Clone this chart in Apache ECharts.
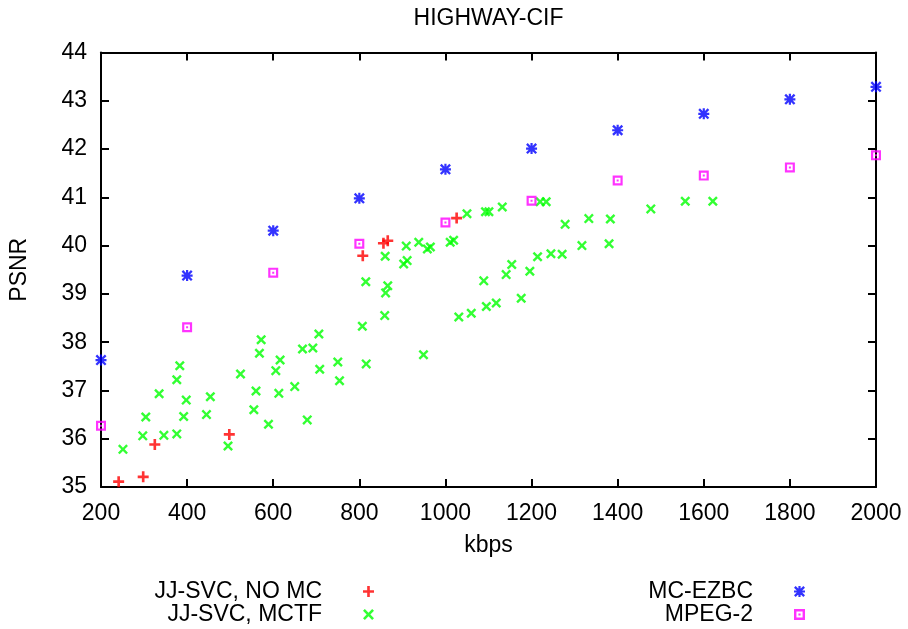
<!DOCTYPE html>
<html>
<head>
<meta charset="utf-8">
<script src="https://cdn.jsdelivr.net/npm/echarts@6/dist/echarts.min.js"></script>
<style>html,body{margin:0;padding:0;background:#fff}#c{width:908px;height:629px}</style>
</head>
<body>
<div id="c"></div>
<script>
const chartTitle = 'HIGHWAY-CIF';
const xTicks = [200, 400, 600, 800, 1000, 1200, 1400, 1600, 1800, 2000];
const yTicks = [35, 36, 37, 38, 39, 40, 41, 42, 43, 44];
const seriesNames = ['JJ-SVC, NO MC', 'JJ-SVC, MCTF', 'MC-EZBC', 'MPEG-2'];

const noMcKbps = [241, 298, 325, 498, 808, 856, 866, 1026];
const noMcPsnr = [35.11, 35.21, 35.88, 36.09, 39.79, 40.05, 40.10, 40.57];

const mctfKbps = [251, 297, 304, 335, 346, 376, 376, 383, 392, 398, 445, 454, 495, 524, 555, 560, 568, 572, 589, 606,
  613, 616, 650, 668, 679, 692, 706, 708, 750, 754, 807, 816, 815, 859, 861, 866, 860, 903, 909, 911,
  938, 949, 958, 965, 1011, 1019, 1031, 1050, 1060, 1089, 1093, 1095, 1101, 1118, 1132, 1141, 1154, 1176, 1196, 1214,
  1220, 1234, 1245, 1271, 1278, 1317, 1333, 1380, 1383, 1477, 1557, 1621];
const mctfPsnr = [35.78, 36.06, 36.45, 36.93, 36.07, 36.10, 37.22, 37.51, 36.46, 36.80, 36.50, 36.87, 35.85, 37.34, 36.60, 36.99, 37.77, 38.05, 36.30, 37.41,
  36.94, 37.63, 37.08, 37.86, 36.39, 37.88, 38.17, 37.44, 37.59, 37.20, 38.33, 37.55, 39.25, 38.55, 39.02, 39.17, 39.78, 39.62, 39.99, 39.69,
  40.07, 37.74, 39.93, 39.97, 40.07, 40.11, 38.52, 40.66, 38.60, 39.27, 40.70, 38.74, 40.70, 38.81, 40.80, 39.40, 39.61, 38.91, 39.47, 39.77,
  40.91, 40.91, 39.83, 39.82, 40.44, 40.00, 40.56, 40.04, 40.55, 40.76, 40.92, 40.92];

const ezbcKbps = [200, 400, 600, 800, 1000, 1200, 1400, 1600, 1800, 2000];
const ezbcPsnr = [37.63, 39.38, 40.31, 40.98, 41.58, 42.01, 42.39, 42.73, 43.03, 43.29];

const mpegKbps = [200, 400, 600, 800, 1000, 1200, 1400, 1600, 1800, 2000];
const mpegPsnr = [36.27, 38.31, 39.44, 40.04, 40.48, 40.93, 41.35, 41.45, 41.62, 41.87];

const FONT = 'Liberation Sans, Arial, sans-serif';
const FS = 23;
const pts = (xs, ys) => xs.map((x, i) => [x, ys[i]]);

const SYM_PLUS = 'path://M3.8,0H6.2V3.8H10V6.2H6.2V10H3.8V6.2H0V3.8H3.8Z';
const SYM_CROSS = 'path://M0,1.7L1.7,0L5,3.3L8.3,0L10,1.7L6.7,5L10,8.3L8.3,10L5,6.7L1.7,10L0,8.3L3.3,5Z';
const SYM_STAR = 'path://M4,0H6V4H10V6H6V10H4V6H0V4H4Z M0,1.5L1.5,0L5,3.5L8.5,0L10,1.5L6.5,5L10,8.5L8.5,10L5,6.5L1.5,10L0,8.5L3.5,5Z';
const SYM_BOXDOT = 'path://M0,0H10V10H0Z M2.2,2.2V7.8H7.8V2.2Z M4,4H6V6H4Z';

const xMin = xTicks[0], xMax = xTicks[xTicks.length - 1], xInt = xTicks[1] - xTicks[0];
const yMin = yTicks[0], yMax = yTicks[yTicks.length - 1], yInt = yTicks[1] - yTicks[0];

const axisLineStyle = { show: true, lineStyle: { color: '#000', width: 2 } };
const tickStyle = { show: true, inside: true, length: 8, lineStyle: { color: '#000', width: 2 } };
const labelStyle = { fontFamily: FONT, fontSize: FS, color: '#000' };

const chart = echarts.init(document.getElementById('c'), null, { renderer: 'canvas' });
chart.setOption({
  animation: false,
  backgroundColor: '#fff',
  title: {
    text: chartTitle, left: 488.5, textAlign: 'center', top: 7, padding: 0,
    textStyle: { fontFamily: FONT, fontSize: FS, fontWeight: 'normal', color: '#000' }
  },
  grid: { left: 101, right: 32, top: 52.5, bottom: 142, containLabel: false },
  legend: [
    {
      data: [seriesNames[0], seriesNames[1]], orient: 'vertical', align: 'right',
      right: 534, top: 580, padding: 0, itemGap: 0, itemWidth: 83, itemHeight: 11,
      textStyle: labelStyle
    },
    {
      data: [seriesNames[2], seriesNames[3]], orient: 'vertical', align: 'right',
      right: 103, top: 580, padding: 0, itemGap: 0, itemWidth: 83, itemHeight: 11,
      textStyle: labelStyle
    }
  ],
  xAxis: [
    {
      type: 'value', min: xMin, max: xMax, interval: xInt, position: 'bottom',
      name: 'kbps', nameLocation: 'middle', nameGap: 47,
      nameTextStyle: labelStyle,
      axisLine: axisLineStyle, axisTick: tickStyle, splitLine: { show: false },
      axisLabel: Object.assign({ margin: 15, formatter: v => String(v) }, labelStyle)
    },
    {
      type: 'value', min: xMin, max: xMax, interval: xInt, position: 'top',
      axisLine: axisLineStyle, axisTick: tickStyle, splitLine: { show: false },
      axisLabel: { show: false }
    }
  ],
  yAxis: [
    {
      type: 'value', min: yMin, max: yMax, interval: yInt, position: 'left',
      name: 'PSNR', nameLocation: 'middle', nameGap: 70, nameRotate: 90,
      nameTextStyle: labelStyle,
      axisLine: axisLineStyle, axisTick: tickStyle, splitLine: { show: false },
      axisLabel: Object.assign({ margin: 14, formatter: v => String(v) }, labelStyle)
    },
    {
      type: 'value', min: yMin, max: yMax, interval: yInt, position: 'right',
      axisLine: axisLineStyle, axisTick: tickStyle, splitLine: { show: false },
      axisLabel: { show: false }
    }
  ],
  series: [
    { name: seriesNames[0], type: 'scatter', data: pts(noMcKbps, noMcPsnr), symbol: SYM_PLUS, symbolSize: 11,
      itemStyle: { color: '#ff0000' }, clip: false },
    { name: seriesNames[1], type: 'scatter', data: pts(mctfKbps, mctfPsnr), symbol: SYM_CROSS, symbolSize: 10,
      itemStyle: { color: '#00ff00' }, clip: false },
    { name: seriesNames[2], type: 'scatter', data: pts(ezbcKbps, ezbcPsnr), symbol: SYM_STAR, symbolSize: 11,
      itemStyle: { color: '#0000ff' }, clip: false },
    { name: seriesNames[3], type: 'scatter', data: pts(mpegKbps, mpegPsnr), symbol: SYM_BOXDOT, symbolSize: 10,
      itemStyle: { color: '#ff00ff' }, clip: false }
  ]
});
</script>
</body>
</html>
